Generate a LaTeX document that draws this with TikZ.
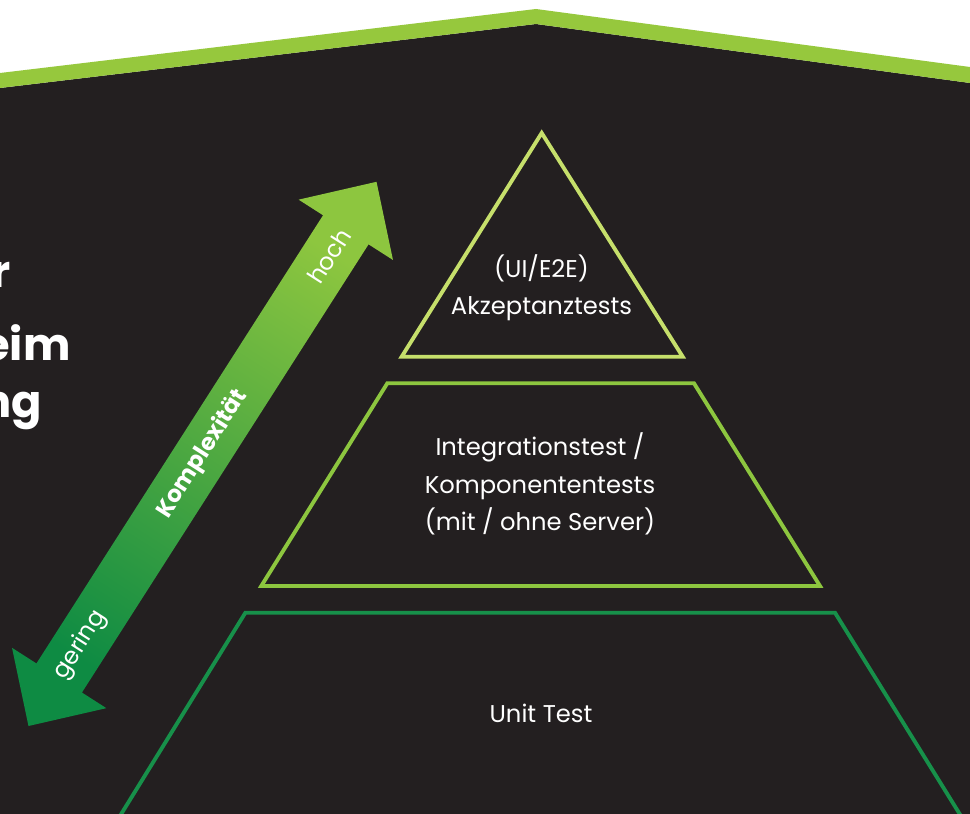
\documentclass[tikz,border=0pt]{standalone}
\usepackage{fontspec}
\setmainfont{Poppins}
\definecolor{bgdark}{HTML}{231F20}
\definecolor{roofgreen}{HTML}{96C83D}
\definecolor{tiptone}{HTML}{C6DF6B}
\definecolor{midtone}{HTML}{8DC63F}
\definecolor{basetone}{HTML}{17904A}
\definecolor{arrowlo}{HTML}{0E8B43}
\definecolor{arrowhi}{HTML}{8DC63F}

\begin{document}
\begin{tikzpicture}[x=0.02cm,y=-0.02cm,
                    tier/.style={line width=2.2pt,line join=miter},
                    tiertext/.style={text=white,align=center,inner sep=0pt,
                      font=\fontsize{13.8}{21.3}\selectfont},
                    headtext/.style={text=white,inner sep=0pt,anchor=base east,
                      font=\fontsize{25.5}{36}\selectfont\bfseries},
                    axislabel/.style={text=white,inner sep=0pt,rotate=57.4,
                      font=\fontsize{13.5}{15}\selectfont}]
                    \useasboundingbox (0,0) rectangle (970,814);
                    \clip (0,0) rectangle (970,814);
                    \fill[white] (0,0) rectangle (970,814);
                    \fill[bgdark] (0,88) -- (536,24) -- (970,83) -- (970,814) -- (0,814) -- cycle;
                    \fill[roofgreen] (0,73) -- (536,9) -- (970,67) -- (970,83) -- (536,24) -- (0,88) -- cycle;
                    \node[headtext] (lineone) at (11,287) {r};
                    \node[headtext] (linetwo) at (71,360) {eim};
                    \node[headtext] (linethree) at (42,417) {ng};
                    \begin{scope}[shift={(202.5,453.9)},rotate=57.4]
                      \shade[top color=arrowhi,bottom color=arrowlo,shading angle=-32.6]
                        (-323,0) -- (-266,56) -- (-266,27) -- (266,27) -- (266,56) -- (323,0)
                        -- (266,-56) -- (266,-27) -- (-266,-27) -- (-266,-56) -- cycle;
                      \node[axislabel] (high) at (235,0) {hoch};
                      \node[axislabel,font=\fontsize{13.2}{15}\selectfont\bfseries] (complexity) at (0,0) {Komplexität};
                      \node[axislabel] (low) at (-227,0) {gering};
                    \end{scope}
                    \draw[tier,tiptone] (541.7,133) -- (682.7,356.7) -- (401.7,356.7) -- cycle;
                    \draw[tier,midtone] (387.3,383.3) -- (694,383.3) -- (820,586) -- (261.3,586) -- cycle;
                    \draw[tier,basetone] (99,850) -- (245.4,612.7) -- (835,612.7) -- (982,850);
                    \node[tiertext] (acceptance) at (541.5,288) {(UI/E2E)\\Akzeptanztests};
                    \node[tiertext] (integration) at (540,484) {Integrationstest /\\Komponententests\\(mit / ohne Server)};
                    \node[tiertext] (unit) at (541,713) {Unit Test};
                  \end{tikzpicture}
\end{document}
